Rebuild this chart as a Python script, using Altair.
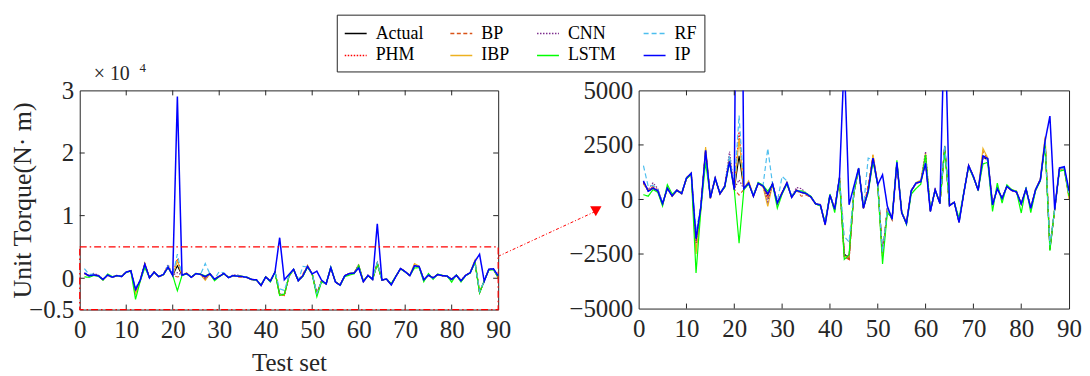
import altair as alt
import pandas as pd

test_idx = list(range(1, 91))

actual = [800, 380, 520, 400, -200, 520, 160, 420, 270, 980,
          1200, -1900, -350, 2250, 60, 980, 260, 600, 1850, 450,
          2000, 480, 760, 150, 740, 620, 200, 720, -170, 300,
          760, 100, 420, 330, 270, 120, -200, -250, -1150, 200,
          -450, 1000, -2500, -2700, 300, 1430, -400, 400, 1850, 680,
          -2500, -450, -900, 1700, -600, -1100, 400, 750, 820, 1700,
          -550, 450, -180, 2450, -280, -130, -1050, 300, 1550, 1050,
          420, 1950, 1820, -250, 500, 50, 600, 420, 350, -200,
          480, -400, 450, 900, 2600, -2300, -450, 1400, 1450, 200]

phm = [780, 420, 560, 430, -180, 500, 200, 440, 290, 960,
       1180, -2100, -300, 2200, 100, 1000, 280, 620, 1800, 500,
       3100, 460, 780, 170, 720, 600, 180, 700, -150, 320,
       740, 120, 430, 340, 260, 140, -180, -230, -1100, 220,
       -420, 980, -2600, -2750, 320, 1400, -380, 450, 1950, 660,
       -2600, -480, -880, 1680, -580, -1080, 420, 740, 800, 1750,
       -520, 430, -160, 2400, -260, -120, -1020, 320, 1530, 1030,
       440, 1980, 1800, -230, 520, 70, 580, 400, 340, -180,
       460, -380, 470, 920, 2650, -2200, -430, 1380, 1430, 180]

bp = [750, 400, 600, 420, -220, 540, 180, 400, 300, 1000,
      1220, -2300, -400, 2300, 80, 950, 240, 580, 1900, 480,
      200, 450, 800, 130, 760, 640, 0, 740, -200, 350,
      780, 90, 450, 150, 200, 100, -220, -260, -1180, 180,
      -480, 1020, -2650, -2750, 350, 1450, -420, 700, 2050, 700,
      -2500, -500, -950, 1650, -620, -1120, 380, 720, 850, 2000,
      -500, 470, -200, 2300, -300, -150, -1000, 280, 1580, 1070,
      400, 2200, 1850, -270, 480, 30, 620, 440, 380, -220,
      500, -420, 430, 880, 2800, -2250, -470, 1420, 1400, 100]

ibp = [700, 420, 500, 380, -250, 500, 140, 400, 250, 950,
       1180, -2500, -450, 2400, 40, 960, 250, 580, 1900, 430,
       2800, 500, 850, 170, 720, 600, -320, 700, -190, 280,
       750, 110, 400, 320, 250, 110, -210, -270, -1100, 220,
       -430, 980, -2600, -2650, 300, 1400, -380, 450, 2050, 650,
       -2600, -500, -850, 1650, -580, -1080, 380, 780, 880, 2115,
       -520, 430, -150, 2300, -250, -120, -1000, 320, 1520, 1020,
       450, 2340, 1900, -230, 520, 20, 620, 450, 380, -180,
       460, -380, 430, 950, 2880, -2200, -430, 1400, 1420, 0]

cnn = [750, 450, 760, 500, -150, 500, 180, 440, 290, 960,
       1200, -2000, -300, 2200, 90, 980, 280, 620, 2200, 500,
       900, 480, 740, 170, 740, 620, -100, 720, -160, 300,
       760, 120, 550, 500, 300, 130, -190, -240, -1120, 210,
       -430, 1000, -2550, -2600, 300, 1420, -400, 420, 1900, 680,
       -2450, -460, -900, 1700, -580, -1100, 400, 760, 820, 2200,
       -540, 450, -180, 2400, -280, -130, -1040, 300, 1550, 1050,
       420, 1950, 1800, -250, 500, 60, 600, 420, 350, -200,
       480, -400, 450, 900, 2600, -2200, -450, 1400, 1450, 200]

lstm = [220, 150, 450, 330, -300, 680, 250, 400, 300, 950,
        1150, -3370, -500, 1700, 100, 950, 300, 550, 1700, 450,
        -2000, 450, 700, 200, 780, 650, 380, 700, -400, 250,
        700, 150, 400, 400, 300, 150, -200, -300, -1050, 250,
        -600, 950, -2750, -2530, 300, 1400, -350, 300, 1750, 650,
        -2950, -600, -850, 1800, -550, -1150, 250, 500, 700, 2040,
        -450, 400, -150, 2270, -250, -150, -850, 350, 1500, 1000,
        450, 1630, 1700, -550, 750, -170, 670, 450, 380, -620,
        550, -600, 400, 850, 2500, -2350, -400, 1300, 1350, 150]

rf = [1550, 600, 650, 450, -150, 500, 200, 450, 280, 1000,
      1200, -1500, -300, 2100, 100, 1000, 280, 620, 2000, 500,
      3850, 500, 750, 180, 740, 620, 2340, 700, -100, 1060,
      850, 130, 420, 350, 280, 130, -180, -240, -1100, 220,
      -430, 1000, -1700, -1950, 350, 1450, -380, 1900, 1800, 700,
      -2400, -450, -880, 1700, -600, -1100, 420, 760, 830, 1750,
      -530, 450, -170, 2500, -270, -130, -1040, 300, 1550, 1050,
      420, 1960, 1800, -250, 500, 50, 600, 420, 350, -200,
      480, -400, 450, 900, 2650, -2100, -450, 1400, 1450, 200]

ip = [850, 380, 520, 400, -200, 520, 160, 420, 270, 980,
      1200, -1800, -350, 2250, 60, 980, 260, 600, 1750, 450,
      29000, 500, 760, 150, 740, 620, 250, 720, -170, 300,
      760, 100, 420, 330, 270, 120, -200, -250, -1150, 200,
      -450, 1000, 6500, -240, 600, 1430, -400, 400, 1900, 680,
      1130, -300, -900, 1700, -600, -1100, 400, 750, 820, 1660,
      -550, 450, -180, 8700, -280, -130, -1050, 300, 1550, 1050,
      420, 2000, 1880, -250, 500, 50, 600, 420, 350, -200,
      480, -400, 450, 900, 2700, 3820, -470, 1450, 1500, 400]

plot_order = ["Actual", "PHM", "BP", "IBP", "CNN", "LSTM", "RF", "IP"]
series_vals = [actual, phm, bp, ibp, cnn, lstm, rf, ip]
color_map = {"Actual": "#000000", "PHM": "#FF0000", "BP": "#D95319", "IBP": "#EDB120",
             "CNN": "#7E2F8E", "LSTM": "#00FF00", "RF": "#4DBEEE", "IP": "#0000FF"}
dash_map = {"Actual": [1, 0], "PHM": [1.5, 1.5], "BP": [4, 2.5], "IBP": [1, 0],
            "CNN": [1.5, 1.5], "LSTM": [1, 0], "RF": [5, 3], "IP": [1, 0]}
width_map = {"Actual": 1.1, "PHM": 1.3, "BP": 1.1, "IBP": 1.2,
             "CNN": 1.2, "LSTM": 1.2, "RF": 1.2, "IP": 1.5}

x_ticks = [10, 20, 30, 40, 50, 60, 70, 80]
left_yticks = [0, 10000, 20000]
right_yticks = [-2500, 0, 2500]
zoom_box = {"x0": 0, "x1": 90, "y0": -5000, "y1": 5000}
arrow_test = [90, 111]
arrow_torque = [3500, 10700]

rows = []
for name, vals in zip(plot_order, series_vals):
    for t, v in zip(test_idx, vals):
        rows.append({"test": t, "torque": v, "model": name})
df = pd.DataFrame(rows)

FONT = "Liberation Serif"
FRAME = "#262626"

legend = alt.Legend(
    orient="none", legendX=258, legendY=-76, columns=4, title=None,
    strokeColor=FRAME, fillColor="white", padding=7,
    labelFont=FONT, labelFontSize=18, labelColor="#000000", labelOffset=8,
    symbolType="stroke", symbolSize=484, symbolStrokeWidth=1.5,
    columnPadding=24, rowPadding=1, labelLimit=200,
)
color_scale = alt.Scale(domain=plot_order, range=[color_map[n] for n in plot_order])
dash_scale = alt.Scale(domain=plot_order, range=[dash_map[n] for n in plot_order])


def make_panel(W, H, ydom, left):
    xs = alt.Scale(domain=[0, 90], nice=False, zero=False)
    ys = alt.Scale(domain=ydom, nice=False, zero=False)
    if left:
        yaxis = alt.Axis(values=[-5000, 0, 10000, 20000, 30000],
                         labelExpr="datum.value == -5000 ? '\u22120.5' : format(datum.value / 10000, 'd')",
                         title="Unit Torque(N\u00b7 m)", titleX=-49, titleY=H / 2,
                         titleBaseline="alphabetic", titleAngle=270)
        xaxis = alt.Axis(values=list(range(0, 91, 10)), format="d", title="Test set",
                         titleY=61, titleBaseline="alphabetic")
    else:
        yaxis = alt.Axis(values=[-5000, -2500, 0, 2500, 5000], format="d", title=None)
        xaxis = alt.Axis(values=list(range(0, 91, 10)), format="d", title=None)

    X = alt.X("test:Q", scale=xs, axis=xaxis)
    Y = alt.Y("torque:Q", scale=ys, axis=yaxis)

    layers = []
    for name in plot_order:
        layers.append(
            alt.Chart(df).transform_filter(alt.datum.model == name)
            .mark_line(clip=True, strokeWidth=width_map[name])
            .encode(x=X, y=Y,
                    color=alt.Color("model:N", scale=color_scale, legend=legend),
                    strokeDash=alt.StrokeDash("model:N", scale=dash_scale, legend=legend))
        )

    # inward ticks on all four sides
    xt = pd.DataFrame({"test": x_ticks})
    yt = pd.DataFrame({"torque": left_yticks if left else right_yticks})
    layers.append(alt.Chart(xt).mark_rule(color=FRAME, strokeWidth=1).encode(
        x=X, y=alt.value(H), y2=alt.value(H - 5)))
    layers.append(alt.Chart(xt).mark_rule(color=FRAME, strokeWidth=1).encode(
        x=X, y=alt.value(0), y2=alt.value(5)))
    layers.append(alt.Chart(yt).mark_rule(color=FRAME, strokeWidth=1).encode(
        y=Y, x=alt.value(0), x2=alt.value(5)))
    layers.append(alt.Chart(yt).mark_rule(color=FRAME, strokeWidth=1).encode(
        y=Y, x=alt.value(W - 5), x2=alt.value(W)))

    if left:
        box = pd.DataFrame({"test": [zoom_box["x0"]], "test2": [zoom_box["x1"]],
                            "torque": [zoom_box["y0"]], "torque2": [zoom_box["y1"]]})
        layers.append(alt.Chart(box).mark_rect(
            fillOpacity=0, stroke="#FF0000", strokeWidth=1.2, strokeDash=[7, 3, 1.5, 3], clip=False
        ).encode(x=X, x2="test2:Q", y=Y, y2="torque2:Q"))
        arr = pd.DataFrame({"test": arrow_test, "torque": arrow_torque})
        layers.append(alt.Chart(arr).mark_line(
            color="#FF0000", strokeWidth=1, strokeDash=[3, 2, 1, 2], clip=False
        ).encode(x=X, y=Y))
        head = pd.DataFrame({"test": [arrow_test[1]], "torque": [arrow_torque[1]]})
        layers.append(alt.Chart(head).mark_point(
            shape="triangle-down", filled=True, color="#FF0000", opacity=1, size=130, clip=False
        ).encode(x=X, y=Y))
        t1 = pd.DataFrame({"label": ["\u00d7 10"]})
        layers.append(alt.Chart(t1).mark_text(
            align="left", baseline="alphabetic", font=FONT, fontSize=20, color=FRAME
        ).encode(text="label:N", x=alt.value(14), y=alt.value(-10)))
        t2 = pd.DataFrame({"label": ["4"]})
        layers.append(alt.Chart(t2).mark_text(
            align="left", baseline="alphabetic", font=FONT, fontSize=13, color=FRAME
        ).encode(text="label:N", x=alt.value(60), y=alt.value(-18)))

    return alt.layer(*layers).properties(width=W, height=H)


left_panel = make_panel(420, 220, [-5000, 30000], True)
right_panel = make_panel(432, 219, [-5000, 5000], False)

chart = alt.hconcat(left_panel, right_panel, spacing=141, bounds="flush").resolve_scale(
    color="shared", strokeDash="shared"
).properties(
    padding={"left": 1, "top": 5, "right": 0, "bottom": 0}
).configure_view(
    stroke=FRAME, strokeWidth=1
).configure_axis(
    domain=False, ticks=False, tickSize=0, grid=False, labelFlush=False, labelOverlap=False,
    labelFont=FONT, labelFontSize=25, labelColor=FRAME, labelPadding=6,
    titleFont=FONT, titleFontSize=26, titleColor=FRAME, titleFontWeight="normal",
).configure_axisX(labelPadding=8, titleFontSize=25).configure_text(font=FONT)

chart.save("out.html", embed_options={"renderer": "svg", "actions": False})
